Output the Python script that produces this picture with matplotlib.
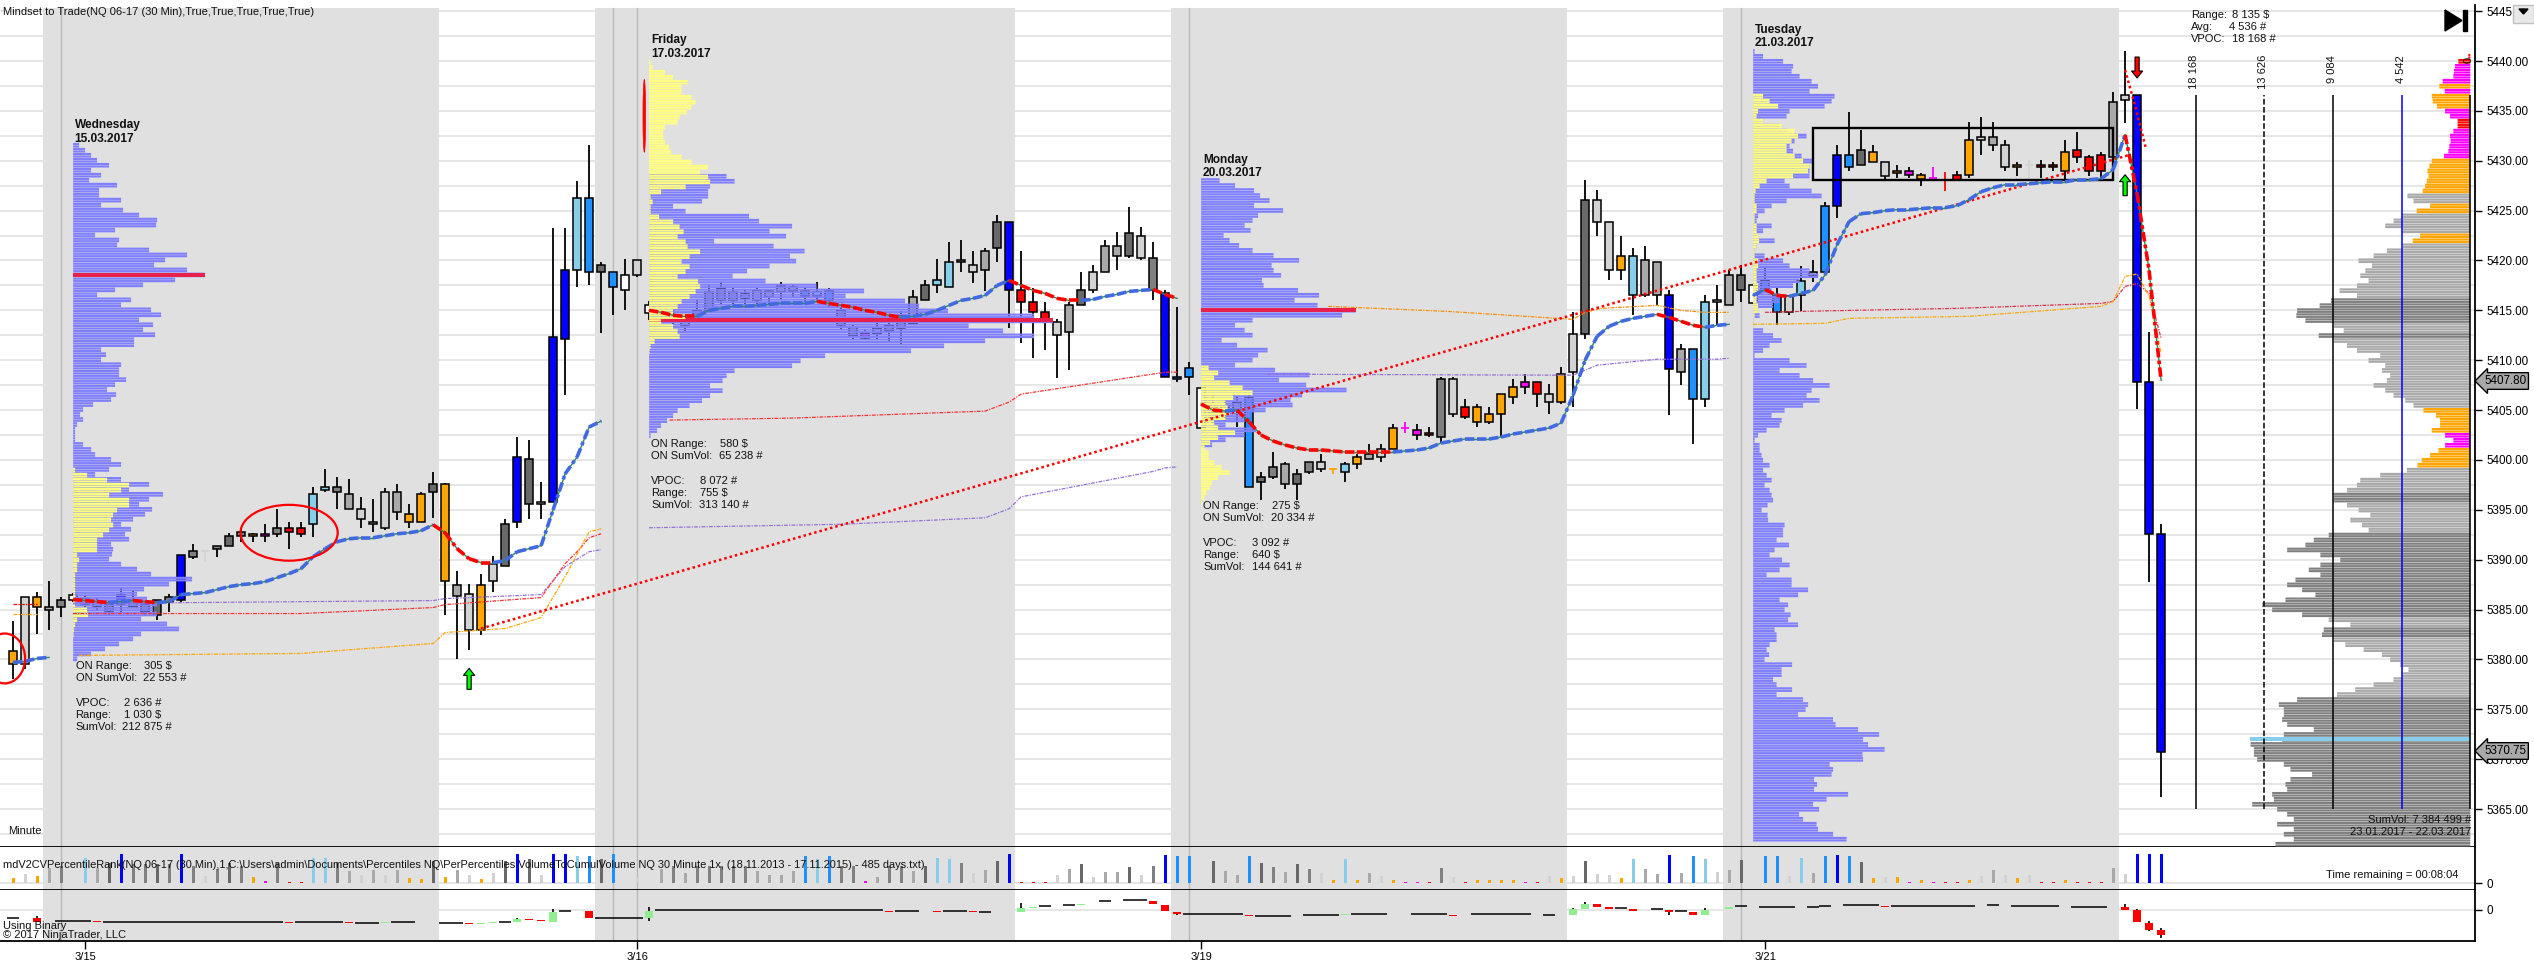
# Recreate the NinjaTrader NQ 06-17 (30 Min) screenshot
import numpy as np
import matplotlib
matplotlib.use("Agg")
import matplotlib.pyplot as plt
from matplotlib.patches import Ellipse, Rectangle, Polygon

plt.rcParams['font.family'] = ['Liberation Sans', 'DejaVu Sans']

W, H = 2534, 965

# ---- candles, one entry per 30 minute bar
bar_top = [5380.8,5386.3,5386.3,5385.3,5386.0,5386.5,5386.2,5385.9,5385.6,5386.5,
           5386.0,5385.6,5386.0,5386.3,5390.5,5390.85,5390.85,5391.35,5392.4,5392.75,
           5392.55,5392.55,5393.2,5393.2,5393.2,5396.55,5397.25,5397.25,5396.55,5395.05,
           5393.75,5396.75,5396.75,5394.55,5396.55,5397.55,5397.55,5387.5,5386.55,5387.5,
           5389.55,5393.55,5400.25,5400.05,5395.75,5412.3,5419.0,5426.3,5426.3,5419.5,
           5418.8,5418.5,5420.0,5415.5,5415.0,5414.5,5414.0,5415.0,5416.8,5417.2,
           5416.8,5416.6,5417.0,5416.9,5417.4,5417.3,5416.9,5416.8,5416.9,5415.0,
           5413.3,5412.7,5413.2,5413.5,5414.5,5416.3,5417.5,5418.0,5419.8,5420.0,
           5419.5,5421.0,5423.85,5423.85,5417.0,5415.8,5414.8,5413.8,5415.5,5417.0,
           5418.8,5421.5,5421.5,5422.8,5422.5,5420.3,5416.75,5408.3,5409.25,5407.25,
           5405.5,5405.4,5405.8,5406.2,5398.25,5399.25,5399.55,5398.55,5399.75,5399.75,
           5399.05,5399.55,5400.25,5400.55,5401.05,5403.25,5403.25,5403.05,5402.75,5408.1,
           5408.1,5405.3,5405.3,5404.6,5406.6,5407.3,5407.8,5407.8,5406.6,5408.6,
           5412.6,5426.05,5426.05,5423.85,5420.5,5420.5,5420.0,5419.8,5416.5,5411.1,
           5411.1,5415.8,5416.0,5418.5,5418.5,5417.55,5418.0,5416.55,5416.4,5417.9,
           5418.8,5425.5,5430.55,5430.55,5431.05,5430.85,5429.85,5429.0,5429.0,5428.55,
           5428.3,5428.05,5428.55,5432.05,5432.35,5432.35,5431.55,5429.55,5429.55,5429.55,
           5429.55,5430.85,5431.05,5430.35,5430.55,5435.85,5436.55,5436.55,5407.8,5392.55]
bar_bot = [5379.5,5379.5,5385.3,5385.0,5385.3,5386.0,5385.6,5385.4,5384.9,5385.6,
           5385.3,5384.8,5384.5,5385.8,5386.0,5390.3,5390.85,5391.05,5391.35,5392.35,
           5392.35,5392.35,5392.55,5392.75,5392.55,5393.55,5397.0,5396.75,5395.05,5394.05,
           5393.55,5393.2,5394.75,5393.75,5393.75,5396.75,5387.85,5386.35,5383.0,5383.0,
           5387.85,5389.35,5393.75,5395.55,5395.55,5395.75,5412.1,5419.0,5418.8,5418.8,
           5417.3,5417.0,5418.5,5414.75,5414.5,5414.0,5413.5,5414.2,5415.0,5416.0,
           5416.0,5416.2,5416.0,5416.3,5416.8,5416.9,5416.4,5416.4,5416.0,5413.5,
           5412.4,5412.2,5412.6,5412.9,5413.2,5413.6,5416.0,5417.5,5417.3,5419.8,
           5418.8,5419.0,5421.3,5417.0,5415.8,5414.8,5413.8,5412.55,5412.8,5415.5,
           5417.0,5418.8,5420.5,5420.5,5420.3,5417.0,5408.3,5408.1,5408.3,5403.25,
           5404.2,5404.8,5405.0,5397.25,5397.75,5398.25,5397.55,5397.55,5398.75,5399.05,
           5399.05,5398.75,5399.55,5400.05,5400.25,5401.05,5403.25,5402.55,5402.55,5402.3,
           5404.6,5404.3,5403.8,5403.8,5404.6,5406.3,5407.3,5406.6,5405.8,5405.8,
           5408.8,5412.6,5423.85,5419.0,5419.0,5416.5,5416.5,5416.5,5409.1,5408.8,
           5406.1,5406.1,5415.8,5415.5,5417.0,5415.75,5417.0,5414.8,5414.8,5416.5,
           5418.55,5418.8,5425.5,5429.35,5429.55,5429.85,5428.5,5428.8,5428.55,5428.15,
           5428.3,5428.05,5428.05,5428.55,5432.05,5431.55,5429.35,5429.35,5429.55,5429.35,
           5429.35,5429.0,5430.35,5429.0,5429.0,5430.35,5436.05,5407.8,5392.55,5370.75]
bar_hi = [5383.85,5386.3,5386.8,5387.9,5386.3,5386.7,5386.5,5386.2,5386.0,5387.3,
          5387.0,5386.0,5386.0,5386.6,5390.5,5391.6,5390.85,5391.35,5392.65,5393.15,
          5392.65,5393.6,5395.05,5393.75,5393.75,5397.3,5399.1,5398.3,5398.1,5396.25,
          5396.1,5397.2,5397.6,5395.6,5396.75,5398.8,5397.7,5388.9,5387.55,5388.55,
          5390.4,5394.05,5402.3,5402.05,5397.8,5423.3,5423.3,5428.0,5431.55,5419.8,
          5418.8,5420.2,5420.0,5415.9,5415.5,5415.0,5414.5,5416.0,5417.6,5417.7,
          5417.2,5417.0,5417.2,5417.1,5417.8,5417.6,5417.3,5417.8,5417.2,5415.3,
          5413.6,5413.0,5413.9,5414.0,5414.9,5417.0,5418.0,5420.1,5421.85,5422.05,
          5421.0,5421.3,5424.55,5423.85,5421.0,5417.25,5415.8,5414.1,5415.85,5418.8,
          5419.55,5422.05,5422.85,5425.35,5423.35,5421.85,5417.0,5415.3,5409.8,5407.25,
          5406.5,5406.0,5406.3,5406.5,5398.8,5400.8,5399.75,5399.05,5399.75,5400.55,
          5399.05,5399.75,5400.55,5401.6,5401.6,5403.6,5403.8,5403.6,5403.3,5408.3,
          5408.3,5406.1,5405.6,5405.3,5406.6,5408.1,5408.6,5407.8,5407.6,5409.3,
          5414.8,5428.05,5427.05,5423.85,5422.5,5421.3,5421.5,5419.8,5417.0,5411.65,
          5411.1,5416.5,5417.5,5419.0,5419.5,5417.55,5419.2,5417.45,5416.4,5419.4,
          5420.0,5425.9,5431.6,5434.85,5433.1,5431.6,5429.85,5429.55,5429.35,5428.8,
          5429.35,5428.85,5429.0,5433.85,5434.4,5433.9,5432.05,5429.85,5430.05,5430.05,
          5429.85,5432.05,5432.85,5430.55,5430.85,5436.85,5441.05,5436.55,5412.85,5393.6]
bar_lo = [5378.0,5379.0,5382.5,5383.0,5384.3,5385.8,5385.3,5385.0,5384.5,5384.7,
          5385.2,5384.5,5384.0,5384.8,5385.8,5390.05,5389.8,5390.3,5391.35,5391.8,
          5391.8,5391.8,5392.3,5391.05,5392.3,5392.3,5396.75,5395.05,5395.05,5393.2,
          5392.75,5393.0,5394.0,5393.2,5393.75,5394.15,5384.5,5380.0,5380.95,5382.45,
          5386.8,5389.35,5393.2,5394.05,5394.05,5395.75,5406.55,5417.3,5417.5,5412.75,
          5414.55,5415.0,5418.3,5414.0,5414.2,5413.5,5412.9,5414.0,5414.8,5415.5,
          5415.4,5415.6,5415.2,5415.6,5416.0,5416.3,5415.7,5415.7,5415.3,5413.0,
          5412.0,5412.0,5412.0,5411.8,5411.5,5413.6,5416.0,5416.75,5417.3,5418.8,
          5417.75,5416.95,5419.8,5413.25,5411.75,5410.2,5411.0,5408.25,5409.05,5415.5,
          5416.75,5418.8,5419.0,5420.25,5420.0,5416.0,5408.3,5407.8,5406.55,5403.25,
          5403.6,5403.8,5403.3,5397.25,5396.0,5398.05,5397.05,5396.0,5398.55,5398.75,
          5398.55,5397.75,5399.05,5400.05,5399.75,5401.05,5402.75,5402.05,5402.3,5401.75,
          5404.3,5404.1,5403.3,5403.6,5402.3,5405.6,5406.6,5405.3,5404.6,5405.6,
          5405.3,5412.1,5422.5,5418.0,5418.0,5414.55,5416.3,5415.5,5404.55,5407.5,
          5401.55,5405.3,5413.55,5415.5,5415.8,5415.75,5417.0,5413.5,5414.5,5414.9,
          5417.8,5418.8,5424.3,5429.0,5429.55,5429.85,5428.05,5428.3,5428.3,5427.5,
          5428.05,5427.0,5428.05,5428.3,5430.55,5431.0,5429.0,5428.5,5428.05,5428.3,
          5429.0,5428.05,5429.8,5428.5,5428.3,5430.35,5433.8,5405.1,5387.8,5366.2]
bar_codes = ("oloagwsadB" "ggdgBglgdg" "omgrrssgal" "alaoodoalo" "ldBdlBBsbd"
             "bwlwagaggg" "ggaaaabsbg" "gmaggadssg" "ladBrrrlad" "laadlgBbbw"
             "daabdgadgl" "osoalommrg" "lroooomrlo" "ldllosaaBa" "bsladwbbls"
             "abBbdolomo" "mrrolalolr" "rorrralBBB")
code_colors = {'o': '#FFA500', 'l': '#D3D3D3', 'a': '#A9A9A9', 'g': '#808080', 'd': '#696969',
               'w': '#FFFFFF', 's': '#87CEEB', 'b': '#1E90FF', 'B': '#0000FF', 'r': '#FF0000',
               'm': '#FF00FF'}

# ---- volume percentile rank panel
vol_rank = [18,30,24,53,59,0,86,53,70,100, 65,65,65,65,100,60,24,47,70,59,
            20,7,70,3,3,86,86,70,41,26, 45,26,45,18,15,76,20,45,26,15,
            35,76,100,82,26,100,100,94,92,82, 100,0,20,0,47,58,35,58,58,58,
            58,58,41,27,27,41,93,84,93,58, 58,6,21,58,58,41,58,85,83,70,
            35,44,77,100,2,2,2,27,48,65, 20,37,37,55,27,58,97,93,93,0,
            76,41,27,93,69,55,37,65,48,34, 9,83,12,34,23,9,5,5,2,51,
            20,2,12,9,12,9,5,3,23,16, 23,76,30,27,16,83,48,30,97,34,
            93,83,37,44,80,0,93,93,23,86, 34,93,97,93,72,16,20,20,5,9,
            5,3,2,9,23,44,27,16,27,3, 2,12,3,2,3,51,30,100,100,100]

# ---- binary indicator panel
ind_open = [-8,-7,-7.5,-12,-11,-11,-11,-11,-12,-12, -12,-12,-12,-12,-12,-12,-12,-12,-12,-12,
            -12,-12,-12,-11.5,-12,-12,-12,-12,-12,-13, -13,-13,-12,-12,-12,-11.5,-12.5,-13,-12.5,-13.5,
            -13,-12,-12,-9,-10,-12,-1,-1.3,-1,-8, -8,-8,-8,-8,0,0,0,0,0,0,
            0,0,0,0,0,0,0,0,0,0, 0,0,0,-1,-1,-1,-1.3,-1,-1,-1,
            -1,-2,-2.3,-1.7,-2.3,2.3,4,3.7,5,5.5, 7,9,8.7,10,10,9,5.3,-1.7,-4,-4,
            -4,-4,-4,-4.7,-6.3,-6.3,-6.3,-6.2,-5.3,-5, -5,-4.9,-4,-4,-4,-3.9,-3.7,-4,-4,-4,
            -4.7,-5.3,-4,-3.7,-3.7,-3.7,-3.7,-4.7,-5,-5.3, -4.7,1.3,6.3,3.3,2,1.3,0,1,0.3,-1.3,
            -1.7,-4.7,0.7,1.3,3.7,3.3,3,3,3,3, 3,3.7,4,5,5,5,4,3.7,3.7,3.7,
            3.7,3.7,3.7,3.7,3.8,5,4.3,3.7,3.7,3.7, 3.7,3.3,3,3,3,2.6,3.3,0.3,-13,-19.7]
ind_close = [-8,-7.3,-12,-11.5,-11,-11,-11,-12,-12,-12, -12,-12,-12,-12,-12,-12,-12,-12,-12,-12,
             -12,-12,-12,-12.5,-12,-12,-12,-12,-13,-13, -13,-12,-12,-12,-11.5,-12,-12.5,-13,-14,-13,
             -12,-12,-9,-10,-11,-2,-1,-1,-8,-8, -8,-8,-8,-1,0,0,0,0,0,0,
             0,0,0,0,0,0,0,0,0,0, 0,0,0,-1.7,-1,-1,-1,-1.7,-1,-1,
             -2,-2,-2,-2.3,2.3,2.7,4,4.2,5,6, 7.5,9,9.2,10,10,5.7,-1.3,-4.3,-4,-4,
             -4,-4,-4,-6.3,-6.3,-6.3,-6.3,-5.7,-5.3,-5, -5,-4.4,-4,-4,-4,-3.5,-4.3,-4,-4,-4,
             -5.7,-4.8,-4,-3.7,-3.7,-3.7,-3.7,-5.5,-5,-4.8, 1.3,6.3,3.3,1.3,2,-0.7,0.5,1,-1.7,-1.3,
             -4.7,0.3,1.2,3.3,3.7,2.7,3,3,3,3.4, 3,3.7,4.5,5,5,5,3.4,3.7,3.7,3.7,
             3.7,3.7,3.7,3.7,4.3,5,3.7,3.7,3.7,3.7, 3.7,2.7,3,3,3,3,0.3,-12.3,-19.7,-24.7]
ind_wicks = {2: (-6, -12), 42: (-8, -12), 45: (1, -12), 53: (2.7, -10.7), 84: (7, -2.3),
             95: (9.5, 5.7), 97: (-1.7, -5), 130: (1.8, -4.7), 131: (8, 1.3), 138: (0.3, -4.7),
             141: (1.8, -4.7), 176: (6, 0.3), 177: (0.8, -12.3), 178: (-10.5, -21), 179: (-18, -28)}

# ---- session VWAP, nan where no line is drawn
vwap = [5379.7,5379.8,5380.1,5380.2,np.nan,5386.0,5385.9,5385.8,5385.7,5385.8,
        5385.9,5385.8,5385.7,5385.8,5386.5,5386.6,5386.7,5387.0,5387.3,5387.5,
        5387.6,5387.8,5388.2,5388.6,5389.1,5390.3,5391.1,5391.8,5392.1,5392.2,
        5392.2,5392.4,5392.6,5392.7,5392.9,5393.5,5392.7,5391.1,5390.1,5389.7,
        5389.7,5389.9,5390.8,5391.1,5391.4,5395.0,5398.6,5400.3,5403.3,5403.9,
        np.nan,np.nan,np.nan,5415.0,5414.8,5414.5,5414.4,5414.4,5415.0,5415.2,
        5415.4,5415.4,5415.5,5415.6,5415.7,5415.7,5415.7,5415.9,5415.7,5415.5,
        5415.3,5415.0,5414.8,5414.5,5414.3,5414.4,5414.6,5415.0,5415.5,5416.0,
        5416.2,5416.5,5417.5,5418.0,5417.5,5417.0,5416.7,5416.2,5416.0,5416.0,
        5416.1,5416.4,5416.6,5416.9,5417.0,5417.1,5416.6,5416.2,np.nan,5405.6,
        5405.0,5404.9,5405.0,5403.8,5402.5,5401.9,5401.5,5401.2,5401.0,5401.0,
        5400.9,5400.8,5400.8,5400.8,5400.8,5400.8,5400.9,5401.0,5401.2,5401.7,
        5401.9,5402.1,5402.1,5402.1,5402.3,5402.6,5402.8,5403.0,5403.2,5403.7,
        5406.5,5410.0,5412.4,5413.4,5413.9,5414.2,5414.4,5414.6,5414.3,5413.9,
        5413.5,5413.3,5413.5,5413.6,np.nan,5416.5,5417.1,5416.5,5416.4,5416.7,
        5417.0,5418.55,5421.6,5423.9,5424.7,5424.8,5425.0,5425.1,5425.1,5425.2,
        5425.3,5425.3,5425.5,5426.1,5426.9,5427.3,5427.6,5427.6,5427.7,5427.8,
        5427.9,5427.9,5428.1,5428.1,5428.2,5429.1,5432.6,5426.7,5419.0,5408.0]

# ---- thin session levels: (bar, price) nodes
wed_purple = [(5,5385.6),(35,5385.9),(36,5386.1),(44,5386.5),(46,5389.3),(48,5390.8),(49,5391.0)]
wed_red = [(5,5384.6),(24,5384.6),(35,5385.2),(36,5385.5),(44,5386.2),(46,5389.6),(47,5390.8),(48,5392.2),(49,5392.6)]
wed_orange = [(5.5,5380.4),(24,5380.6),(35,5381.6),(36,5382.7),(41,5383.1),(44,5384.2),(46,5388.3),(48,5392.8),(49,5393.1)]
old_red = [(0,5385.6),(2,5385.6)]
old_orange = [(0,5384.6),(2,5384.6)]
fri_red = [(54.7,5404.0),(65,5404.2),(81,5404.9),(83,5405.8),(84,5406.6),(96,5408.8),(97,5408.8)]
fri_purple = [(53,5393.2),(69,5393.55),(81,5394.2),(83,5395.1),(84,5396.3),(95,5398.85),(96,5399.2),(97,5399.3)]
mon_orange = [(109.6,5415.4),(119.5,5414.9),(130,5414.1),(131,5414.8),(132.3,5415.2),(137,5415.5),(139,5415.0),(141,5414.8),(143,5414.8)]
mon_purple = [(104.5,5408.6),(129,5408.5),(130,5408.5),(132,5409.5),(137,5410.1),(142,5410.1),(143,5410.2)]
tue_red = [(146,5414.8),(149,5414.9),(162,5415.2),(174,5415.7),(175,5415.9),(176,5417.4),(177,5417.7),(178,5416.7),(179,5412.2)]
tue_orange = [(145,5413.6),(151,5413.7),(153,5414.2),(163,5414.4),(174,5415.4),(175,5415.9),(176,5418.4),(177,5418.65),(178,5416.4),(179,5410.7)]

# ---- session volume profiles, volume per half point from the top price down
wed_top = 5431.68
wed_vol = [120,240,360,480,720,360,560,320,880,520,520,960,560,1000,1320,1680,1660,840,440,920,880,
           1520,2280,1840,1620,2280,2636,2040,1400,840,480,1160,960,1560,1760,1320,1600,1400,1640,
           1220,1220,560,660,560,960,920,920,1060,840,680,860,760,400,200,140,200,80,40,40,40,200,
           360,440,760,960,720,440,960,1520,1120,1800,1520,1320,1580,1440,1200,960,1160,1040,1120,
           760,800,780,720,960,1280,1560,2380,1920,1420,1280,1480,1680,1600,1680,1360,1880,2120,
           1360,1200,920,640,360,80]
wed_on_top = 5399.1
wed_on_vol = [40,280,680,1120,960,720,1120,1120,880,800,760,800,720,600,480,480,480,80,120,80,80,
              40,40,40,40,40,40,40,280,300,80,40,20,10]
fri_top = 5428.57
fri_vol = [1550,1710,1220,1180,1180,1060,480,730,2000,2200,2860,2410,2740,1300,2490,3110,2820,2940,
           2410,1960,1670,2330,3350,4300,3930,5120,5400,5980,7700,8072,6390,7080,7700,6720,5900,5240,
           3520,3030,2860,1710,1550,1470,1220,1470,1220,1060,810,570,480,360,240,160,30]
fri_on_top = 5440.0
fri_on_vol = [30,70,320,480,770,650,650,850,930,850,750,610,570,320,280,280,320,400,440,650,850,1180,
              1020,1180,1220,730,240,30,70,30,30,200,480,610,690,570,730,770,1020,810,650,810,730,570,
              980,1020,930,810,650,570,480,730,240,480,570,610,110,30,10]
mon_top = 5428.14
mon_vol = [370,680,1060,1180,1370,1060,1640,1140,1030,870,990,450,570,760,1030,1450,1960,1410,1450,1600,
           1220,1250,1940,2360,1870,2330,3092,2820,1030,680,870,1030,410,720,1330,1140,1030,680,1480,2170,
           1560,2100,2910,2020,1790,1830,1290,990,870,490,1100,870,490,220]
mon_on_top = 5409.36
mon_on_vol = [150,340,260,570,830,1030,640,490,530,570,490,260,340,680,340,180,70,150,150,260,410,570,340,
              220,180,110,70,20]
tue_top = 5441.1
tue_vol = [30,200,600,800,770,930,1170,1300,1130,1630,1570,1430,730,670,200,530,670,1070,830,730,800,970,
           1200,1130,1130,1130,630,730,1170,1370,670,370,230,100,70,370,200,100,430,70,30,230,600,730,1130,
           1300,930,800,370,530,530,400,100,130,10,10,200,400,570,330,200,30,730,1070,530,930,1200,1530,
           1170,1070,1330,1000,630,370,570,530,270,100,
           30,130,130,170,200,330,200,270,370,230,330,370,400,290,170,290,300,630,600,600,470,720,430,330,
           580,730,530,270,770,770,1100,900,530,700,630,750,700,900,430,470,470,330,270,320,230,780,570,570,
           400,470,780,470,1000,1100,1050,900,1600,1650,2100,2520,2200,2300,2630,2190,2200,1530,1600,1570,
           1220,1280,1220,1900,1470,1200,1320,920,1000,1270,1300,1600,1870]
tue_on_top = 5436.6
tue_on_vol = [200,330,500,100,70,200,570,830,900,770,670,670,830,1000,1130,1100,800,270,130,50,30,30,70,70,
              30,30,70,70,100,120,70,30,30,100,100,70,70,70,100,100,70,70,100,100,30,10,10]
vpoc = [(5, 5418.55, 2636), (53, 5414.0, 8072), (99, 5415.05, 3092)]

# ---- right hand volume profile, whole contract period
right_top = 5440.6
right_vol = [130,790,1010,1080,1120,1830,2050,1690,2550,2490,2220,1670,1340,840,840,1120,1340,1300,1390,1450,
             1740,2550,2710,2840,2770,2880,2990,3150,4160,3760,2660,3540,4530,5080,5630,4530,3320,3810,4470,5520,
             6400,7390,6510,6950,7280,6730,7500,8650,7500,9220,9970,11460,11510,10910,9040,8380,10030,9040,8160,7500,
             5960,6730,5630,5850,5300,5520,6400,5630,5080,4310,3760,3100,2270,2000,2000,2550,1670,1120,1670,2110,
             2660,3210,3500,4200,5960,7280,
             7500,8160,9040,9040,8160,7390,6620,7940,7170,6730,9370,10360,10910,12120,9920,8600,9920,10690,9920,11570,
             12120,11130,10250,12230,13770,13110,11130,9370,7940,9700,9810,9040,8270,7060,5850,5300,4640,4090,4530,5080,
             6400,7610,8820,11460,12670,12340,12340,12450,12120,10360,12340,12450,14540,14320,14320,14100,12340,11900,10470,11900,
             12230,12120,13110,13000,14430,12780,12120,11680,12780,11680,12340,11680,12890]
right_codes = ("rrmmmmomooommrrmmmmmmooooooo" "aaooaaaaooaa" "aaaaaaaaa" "ggggg" "aa" "g" "aaaaaaaaaaaaaa"
               "ooooo" "mmm" "oooo" "aaa"
               "aaggaaaaaa" "ggggggggggggggggg" "aa" "gg" "aaaaaaaaaaaa" + "g" * 30)
right_levels = [18168, 13626, 9084, 4542]
level_styles = [('black', '-'), ('black', '--'), ('black', '-'), ('blue', '-')]

sessions = [(2.5, 35.5), (48.5, 83.5), (96.5, 129.5), (142.5, 175.5)]
midnights = [4, 50, 52, 98, 144]
date_ticks = [6, 52, 99, 146]
date_labels = ['3/15', '3/16', '3/19', '3/21']
price_ticks = np.arange(5365, 5446, 5)
grid_prices = np.arange(5362.5, 5446, 2.5)
BAND = '#E0E0E0'
GRID = '#E6E6E6'

fig = plt.figure(figsize=(W / 100, H / 100), dpi=100, facecolor='white')


def panel(y1, y2):
    a = fig.add_axes([0, 1 - y2 / H, 2475 / W, (y2 - y1) / H])
    a.set_xlim(-13.1 / 12, (2475 - 13.1) / 12)
    for s in ['top', 'left']:
        a.spines[s].set_visible(False)
    for s in ['right', 'bottom']:
        a.spines[s].set_linewidth(1.3)
    a.yaxis.tick_right()
    a.tick_params(axis='y', length=5, width=1, pad=3, labelsize=8.4)
    a.set_xticks([])
    return a


def label(px, py, s, **kw):
    kw.setdefault('fontsize', 8)
    kw.setdefault('va', 'center')
    kw.setdefault('color', '#111111')
    return fig.text(px / W, 1 - py / H, s, **kw)


ax = panel(5, 847)
ax.set_ylim(5446.12 - 0.10027 * 847, 5446.12 - 0.10027 * 5)
ax.set_yticks(price_ticks)
ax.set_yticklabels(['%.2f' % p for p in price_ticks])
ax.hlines(grid_prices, -2, 206, color=GRID, lw=1.4, zorder=0.5)
for a, b in sessions:
    ax.axvspan(a, b, ymin=0, ymax=1 - 3 / 842, color=BAND, lw=0, zorder=1)
for m in midnights:
    ax.axvline(m, ymin=0, ymax=1 - 3 / 842, color='#B8B8B8', lw=1, zorder=1.2)

# candles
x = np.arange(len(bar_top))
colors = [code_colors[c] for c in bar_codes]
for i in x:
    doji = bar_top[i] == bar_bot[i]
    edge = colors[i] if doji else 'black'
    ax.vlines(i, bar_lo[i], bar_hi[i], color=edge, lw=1.3, zorder=2)
    if doji:
        ax.hlines(bar_top[i], i - 0.35, i + 0.35, color=edge, lw=1.3, zorder=2.1)
    else:
        ax.bar(i, bar_top[i] - bar_bot[i], bottom=bar_bot[i], width=0.7, color=colors[i],
               edgecolor='black', lw=1.1, zorder=2.1)


def profile(left, top, vols, color, z):
    vols = np.repeat(np.array(vols, dtype=float), 2)
    prices = top - 0.25 * np.arange(len(vols))
    # snap off, otherwise the 2.5 pixel rows merge in pairs
    ax.barh(prices, vols / 240, left=left, height=0.215, color=color, lw=0, zorder=z, snap=False)


for left, top, vols in [(5, wed_top, wed_vol), (53, fri_top, fri_vol), (99, mon_top, mon_vol), (145, tue_top, tue_vol)]:
    profile(left, top, vols, '#8080FF', 3)
for left, price, vol in vpoc:
    ax.barh(price, vol / 240, left=left, height=0.42, color='#E8204C', lw=0, zorder=3.2)
for left, top, vols in [(5, wed_on_top, wed_on_vol), (53, fri_on_top, fri_on_vol), (99, mon_on_top, mon_on_vol), (145, tue_on_top, tue_on_vol)]:
    profile(left, top, vols, '#FFFF80', 3.3)

# right hand profile
right_edge = (2470.3 - 13.1) / 12
rv = np.repeat(np.array(right_vol, dtype=float), 2) / 794
rp = right_top - 0.25 * np.arange(len(rv))
rc = [code_colors[c] for c in right_codes for _ in (0, 1)]
ax.barh(rp, rv, left=right_edge - rv, height=0.215, color=rc, lw=0, zorder=3, snap=False)
ax.barh(5372.0, 14590 / 794, left=right_edge - 14590 / 794, height=0.45, color='#87CEEB', lw=0, zorder=3.4)
for lev, (c, ls) in zip(right_levels, level_styles):
    ax.vlines(right_edge - lev / 794, 5365, 5436.6, color=c, ls=ls, lw=1.1, zorder=3.6)
ax.vlines(right_edge, 5365, 5436.6, color='black', lw=1.1, zorder=3.6)

# thin levels
for nodes, c in [(wed_purple, '#9370DB'), (wed_red, '#FF3030'), (wed_orange, '#FFA500'),
                 (old_red, '#FF0000'), (old_orange, '#FFA500'),
                 (fri_red, '#FF3030'), (fri_purple, '#9370DB'),
                 (mon_orange, '#FF8C00'), (mon_purple, '#9370DB'),
                 (tue_red, '#E0304C'), (tue_orange, '#FFA500')]:
    xs, ys = zip(*nodes)
    ax.plot(xs, ys, color=c, lw=0.9, ls=(0, (3, 1, 1, 1)), zorder=4)

# trend lines
ax.plot([39, 176.4], [5383.1, 5430.6], color='red', lw=1.8, ls=(0, (1, 1.2)), zorder=4.5)
ax.plot([176, 176.9, 177.7], [5439.1, 5435.2, 5431.4], color='red', lw=1.8, ls=(0, (1, 1.2)), zorder=4.5)

# vwap, blue rising, red falling
last = 'royalblue'
for i in range(len(vwap) - 1):
    a, b = vwap[i], vwap[i + 1]
    if np.isnan(a) or np.isnan(b):
        continue
    if b > a:
        last = 'royalblue'
    elif b < a:
        last = 'red'
    ax.plot([i, i + 1], [a, b], color='#2E8B57', lw=1, zorder=5)
    ax.plot([i, i + 1], [a, b], color=last, lw=2.6, ls=(0, (2.6, 0.9, 1, 0.9)), zorder=5.1)

# drawings
ax.add_patch(Rectangle((150, 5428.07), 25, 5.23, fill=False, ec='black', lw=1.7, zorder=4.8))
ax.add_patch(Ellipse((23, 5392.7), 8.1, 5.6, fill=False, ec='red', lw=1.6, zorder=6))
ax.add_patch(Ellipse((-0.7, 5380.1), 3.4, 5.0, fill=False, ec='red', lw=1.6, zorder=6))
ax.add_patch(Ellipse((52.6, 5434.5), 0.22, 7.3, fc='red', ec='red', lw=0.5, zorder=6))
for ix, tail, tip, c in [(38, 5377, 5379.1, 'lime'), (176, 5426.5, 5428.6, 'lime'), (177, 5440.4, 5438.3, 'red')]:
    ax.annotate('', xy=(ix, tip), xytext=(ix, tail), zorder=7,
                arrowprops=dict(facecolor=c, edgecolor='black', width=3, headwidth=8, headlength=5, shrink=0, lw=0.8))

# volume rank panel
ax2 = panel(847, 890)
ax2.set_ylim(-7 / 0.29, 36 / 0.29)
ax2.set_yticks([0])
ax2.axhline(0, color=GRID, lw=1.4, zorder=0.5)
for a, b in sessions:
    ax2.axvspan(a, b, color=BAND, lw=0, zorder=1)
for m in midnights:
    ax2.axvline(m, color='#B8B8B8', lw=1, zorder=1.2)
ax2.bar(x, vol_rank, width=0.26, color=colors, lw=0, zorder=2)

# binary panel
ax3 = panel(890, 941)
ax3.set_ylim(-31, 20)
ax3.set_yticks([0])
ax3.axhline(0, color=GRID, lw=1.4, zorder=0.5)
for a, b in sessions:
    ax3.axvspan(a, b, ymin=1 / 51, color=BAND, lw=0, zorder=1)
for m in midnights:
    ax3.axvline(m, color='#B8B8B8', lw=1, zorder=1.2)
for i in x:
    o, c = ind_open[i], ind_close[i]
    if i in ind_wicks:
        ax3.vlines(i, ind_wicks[i][1], ind_wicks[i][0], color='black', lw=1.2, zorder=2)
    if o == c:
        ax3.hlines(o, i - 0.47, i + 0.47, color='black', lw=1.1, zorder=2.1)
    else:
        ax3.bar(i, c - o, bottom=o, width=0.72, color='#90EE90' if c > o else 'red', lw=0, zorder=2.1)
ax3.set_xticks(date_ticks)
ax3.set_xticklabels(date_labels, fontsize=8)
ax3.tick_params(axis='x', length=6, width=1, pad=2)

# texts
label(3, 12, 'Mindset to Trade(NQ 06-17 (30 Min),True,True,True,True,True)')
for px, y1, y2, day, date in [(74.7, 125, 139, 'Wednesday', '15.03.2017'), (651, 40, 54, 'Friday', '17.03.2017'),
                              (1203, 160, 173, 'Monday', '20.03.2017'), (1755, 30, 43, 'Tuesday', '21.03.2017')]:
    label(px, y1, day, fontweight='bold', fontsize=8.6)
    label(px, y2, date, fontweight='bold', fontsize=8.6)
stat_rows = [
    (75.5, [666, 678, 703, 715, 727], [143.7, 143, 123.7, 123.7, 122.5], ['305 $', '22 553 #', '2 636 #', '1 030 $', '212 875 #']),
    (651, [444, 456, 481, 493, 505], [720, 719, 700, 700, 699], ['580 $', '65 238 #', '8 072 #', '755 $', '313 140 #']),
    (1203, [506, 518, 543, 555, 567], [1272, 1271, 1252, 1252, 1251.5], ['275 $', '20 334 #', '3 092 #', '640 $', '144 641 #']),
]
stat_names = ['ON Range:', 'ON SumVol:', 'VPOC:', 'Range:', 'SumVol:']
for px, ys, vx, vals in stat_rows:
    for name, yy, xx, val in zip(stat_names, ys, vx, vals):
        label(px, yy, name)
        label(xx, yy, val)
for yy, name, xx, val in [(15, 'Range:', 2231.7, '8 135 $'), (27, 'Avg:', 2229, '4 536 #'), (39, 'VPOC:', 2231.7, '18 168 #')]:
    label(2191, yy, name)
    label(xx, yy, val)
for px, yy, s in [(2194, 89, '18 168'), (2263, 89, '13 626'), (2332, 83, '9 084'), (2401, 83, '4 542'), (2469, 63, '0')]:
    label(px, yy, s, rotation=90, ha='center', va='bottom')
label(8, 831, 'Minute')
label(3, 865, 'mdV2CVPercentileRank(NQ 06-17 (30 Min),1,C:\\Users\\admin\\Documents\\Percentiles NQ\\PerPercentiles '
      'VolumeToCumulVolume NQ 30 Minute 1x, (18.11.2013 - 17.11.2015) - 485 days.txt)', fontsize=7.9)
label(3, 926, 'Using Binary')
label(3, 935, '\u00a9 2017 NinjaTrader, LLC')
label(2326, 875, 'Time remaining = 00:08:04')
label(2471.7, 820, 'SumVol: 7 384 499 #', ha='right')
label(2471.7, 832, '23.01.2017 - 22.03.2017', ha='right')
for yy, s in [(381, '5407.80'), (751, '5370.75')]:
    label(2484, yy, s, fontsize=8.4, color='black', zorder=12,
          bbox=dict(boxstyle='larrow,pad=0.2', fc='#A9A9A9', ec='black', lw=1))

# chart trader icons
fig.add_artist(Polygon([(2445 / W, 1 - 10 / H), (2445 / W, 1 - 31 / H), (2462 / W, 1 - 20.5 / H)],
                       transform=fig.transFigure, fc='black', ec='black'))
fig.add_artist(Rectangle((2463 / W, 1 - 31 / H), 3.5 / W, 21 / H, transform=fig.transFigure, fc='black', ec='black'))
fig.add_artist(Rectangle((2513 / W, 1 - 23 / H), 21 / W, 18 / H, transform=fig.transFigure, fc='#E8E8E8', ec='#C0C0C0', zorder=10))
fig.add_artist(Polygon([(2519 / W, 1 - 9 / H), (2528 / W, 1 - 9 / H), (2523.5 / W, 1 - 14 / H)],
                       transform=fig.transFigure, fc='black', ec='black', zorder=11))

fig.savefig('out.png', dpi=100)
